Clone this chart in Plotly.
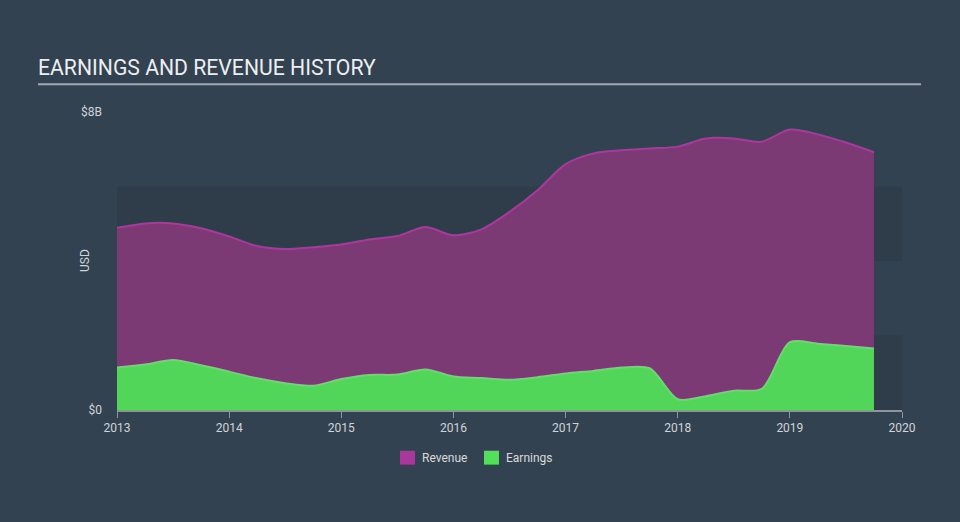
import plotly.graph_objects as go

quarters = [2013 + 0.25 * i for i in range(28)]
revenue = [4.89, 5.01, 5.01, 4.88, 4.66, 4.40, 4.32, 4.37, 4.44, 4.58, 4.67, 4.91,
           4.69, 4.85, 5.32, 5.90, 6.60, 6.89, 6.97, 7.02, 7.07, 7.29, 7.29, 7.20,
           7.53, 7.40, 7.18, 6.92]
earnings = [1.14, 1.22, 1.34, 1.20, 1.03, 0.85, 0.72, 0.65, 0.83, 0.94, 0.95, 1.09,
            0.90, 0.86, 0.81, 0.88, 0.98, 1.05, 1.14, 1.12, 0.29, 0.37, 0.52, 0.57,
            1.82, 1.78, 1.72, 1.65]
year_ticks = [2013, 2014, 2015, 2016, 2017, 2018, 2019, 2020]
y_ticks = [0, 8]
y_labels = ["$0", "$8B"]
series_names = ["Revenue", "Earnings"]
legend_colors = ["#a8389b", "#52e05a"]

fig = go.Figure()
fig.add_trace(go.Scatter(x=quarters, y=revenue, mode="lines", fill="tozeroy", name="Revenue",
                         line=dict(color="#b0359f", width=2, shape="spline", smoothing=0.8),
                         fillcolor="#7b3a74", showlegend=False, hoverinfo="skip"))
fig.add_trace(go.Scatter(x=quarters, y=earnings, mode="lines", fill="tozeroy", name="Earnings",
                         line=dict(color="#5ee067", width=2, shape="spline", smoothing=0.8),
                         fillcolor="#52d65a", showlegend=False, hoverinfo="skip"))

for y0, y1 in [(0, 2), (4, 6)]:
    fig.add_shape(type="rect", xref="x", yref="y", x0=2013, x1=2020, y0=y0, y1=y1,
                  fillcolor="rgba(20,30,40,0.13)", line=dict(width=0), layer="below")

fig.add_shape(type="line", xref="paper", yref="paper", x0=-0.1006, x1=1.0242,
              y0=1.0933, y1=1.0933, line=dict(color="#a3a9b0", width=2))

fig.add_annotation(text="USD", xref="paper", yref="paper", x=(85 - 117) / 785, y=0.5,
                   textangle=-90, showarrow=False, xanchor="center", yanchor="middle",
                   font=dict(size=12, color="#d0d4d8"))

# manual legend
px2x = lambda px: (px - 117) / 785
py2y = lambda py: (410 - py) / 300
for name, col, sx in zip(series_names, legend_colors, [400, 484]):
    fig.add_shape(type="rect", xref="paper", yref="paper", x0=px2x(sx), x1=px2x(sx + 15),
                  y0=py2y(465), y1=py2y(451), fillcolor=col, line=dict(width=0))
    fig.add_annotation(text=name, xref="paper", yref="paper", x=px2x(sx + 20), y=py2y(458),
                       xanchor="left", yanchor="middle", showarrow=False,
                       font=dict(size=12, color="#d8dadc"))

fig.update_layout(
    width=960, height=522,
    margin=dict(l=117, r=58, t=112, b=112),
    paper_bgcolor="#334251", plot_bgcolor="rgba(0,0,0,0)",
    font=dict(family="Roboto", color="#d0d4d8", size=12),
    showlegend=False,
    title=dict(text="EARNINGS AND REVENUE HISTORY", x=38 / 960, xanchor="left",
               xref="container", y=1 - 68 / 522, yref="container", yanchor="middle",
               font=dict(size=21.2, color="#eceef0", family="Roboto")),
    xaxis=dict(range=[2013, 2020], tickvals=year_ticks, ticktext=[str(t) for t in year_ticks],
               showgrid=False, zeroline=False, showline=True, linecolor="#8e959d", linewidth=1.5,
               ticks="outside", ticklen=6, tickcolor="#8e959d",
               tickfont=dict(size=12, color="#d0d4d8")),
    yaxis=dict(range=[0, 8], tickvals=y_ticks, ticktext=y_labels, showgrid=False,
               zeroline=False, showline=False, ticks="", ticklabelstandoff=14,
               tickfont=dict(size=12, color="#d0d4d8")),
)

fig.write_html("out.html")
